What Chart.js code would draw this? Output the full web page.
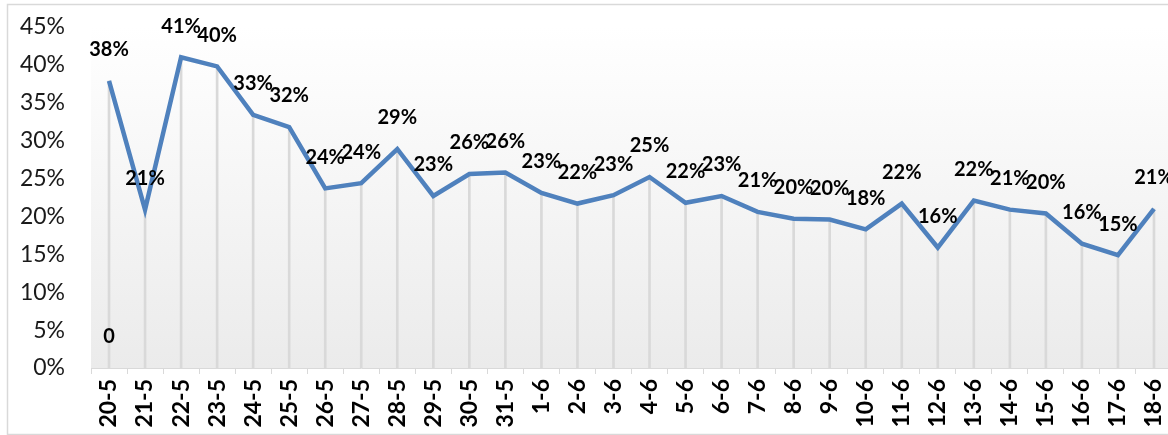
<!DOCTYPE html>
<html>
<head>
<meta charset="utf-8">
<script src="https://cdn.jsdelivr.net/npm/chart.js@4.4.1/dist/chart.umd.min.js"></script>
<style>
  html, body { margin: 0; padding: 0; background: #ffffff; overflow: hidden; width: 1168px; height: 435px; }
  #wrap { position: absolute; left: 0; top: 0; width: 1176px; height: 435px; }
</style>
</head>
<body>
<div id="wrap"><canvas id="c" width="1176" height="435"></canvas></div>
<script>
const categories = ['20-5','21-5','22-5','23-5','24-5','25-5','26-5','27-5','28-5','29-5','30-5','31-5','1-6','2-6','3-6','4-6','5-6','6-6','7-6','8-6','9-6','10-6','11-6','12-6','13-6','14-6','15-6','16-6','17-6','18-6'];
const shareValues = [37.9, 20.9, 41.0, 39.8, 33.4, 31.8, 23.7, 24.4, 28.9, 22.7, 25.6, 25.8, 23.1, 21.7, 22.8, 25.2, 21.8, 22.7, 20.6, 19.7, 19.6, 18.3, 21.7, 15.9, 22.1, 20.9, 20.4, 16.4, 14.9, 21.0];
const zeroSeries = [0];
const yTicks = [0, 5, 10, 15, 20, 25, 30, 35, 40, 45];

const FONT = 'Lato, "Open Sans", "DejaVu Sans", sans-serif';

const bgPlugin = {
  id: 'bg',
  beforeDraw(chart) {
    const ctx = chart.ctx;
    const a = chart.chartArea;
    ctx.save();
    ctx.fillStyle = '#ffffff';
    ctx.fillRect(0, 0, chart.width, chart.height);
    const g = ctx.createLinearGradient(0, a.top, 0, a.bottom);
    g.addColorStop(0, '#ffffff');
    g.addColorStop(1, '#ebebeb');
    ctx.fillStyle = g;
    ctx.fillRect(a.left, a.top, a.right - a.left, a.bottom - a.top);
    ctx.strokeStyle = '#d9d9d9';
    ctx.lineWidth = 1.5;
    ctx.strokeRect(7.5, 4.5, chart.width, chart.height - 5);
    ctx.restore();
  }
};

const labelPlugin = {
  id: 'labels',
  afterDatasetsDraw(chart) {
    const ctx = chart.ctx;
    ctx.save();
    ctx.font = 'bold 20px ' + FONT;
    ctx.fillStyle = '#000000';
    ctx.textAlign = 'center';
    ctx.textBaseline = 'middle';
    chart.data.datasets.forEach((ds, di) => {
      if (!ds.showLabels) return;
      const meta = chart.getDatasetMeta(di);
      meta.data.forEach((el, i) => {
        const v = ds.data[i];
        if (v === null || v === undefined) return;
        const txt = ds.labelKind === 'plain' ? String(Math.round(v)) : Math.round(v) + '%';
        ctx.fillText(txt, el.x, el.y - 31);
      });
    });
    ctx.restore();
  }
};

function zeroPad(scale) {
  scale.paddingTop = 0;
  scale.paddingBottom = 0;
  scale.paddingLeft = 0;
  scale.paddingRight = 0;
}

new Chart(document.getElementById('c'), {
  data: {
    labels: categories,
    datasets: [
      {
        type: 'line',
        data: shareValues,
        borderColor: '#4f81bd',
        borderWidth: 4.5,
        pointRadius: 0,
        tension: 0,
        order: 0,
        showLabels: true
      },
      {
        type: 'line',
        data: zeroSeries,
        borderColor: 'rgba(0,0,0,0)',
        pointRadius: 0,
        order: 0,
        showLabels: true,
        labelKind: 'plain'
      },
      {
        type: 'bar',
        data: shareValues,
        backgroundColor: '#d9d9d9',
        barThickness: 2,
        order: 2
      }
    ]
  },
  options: {
    responsive: false,
    animation: false,
    events: [],
    layout: { padding: { left: 0, top: 27, right: 4, bottom: 0 } },
    plugins: { legend: { display: false }, tooltip: { enabled: false } },
    scales: {
      x: {
        offset: true,
        grid: { drawOnChartArea: false, drawTicks: true, tickLength: 6, tickColor: '#d9d9d9', offset: true },
        border: { display: true, color: '#d9d9d9', width: 1 },
        ticks: {
          autoSkip: false,
          minRotation: 90,
          maxRotation: 90,
          padding: 5,
          color: '#000000',
          font: { family: FONT, size: 23, weight: 'bold' }
        },
        afterFit(scale) { scale.height = 67; zeroPad(scale); }
      },
      y: {
        min: 0,
        max: 45,
        afterBuildTicks(scale) { scale.ticks = yTicks.map(v => ({ value: v })); },
        grid: { display: false, drawTicks: false },
        border: { display: false },
        ticks: {
          padding: 26,
          color: '#1a1a1a',
          font: { family: FONT, size: 23 },
          callback: v => v + '%'
        },
        afterFit(scale) { scale.width = 91; zeroPad(scale); }
      }
    }
  },
  plugins: [bgPlugin, labelPlugin]
});
</script>
</body>
</html>
